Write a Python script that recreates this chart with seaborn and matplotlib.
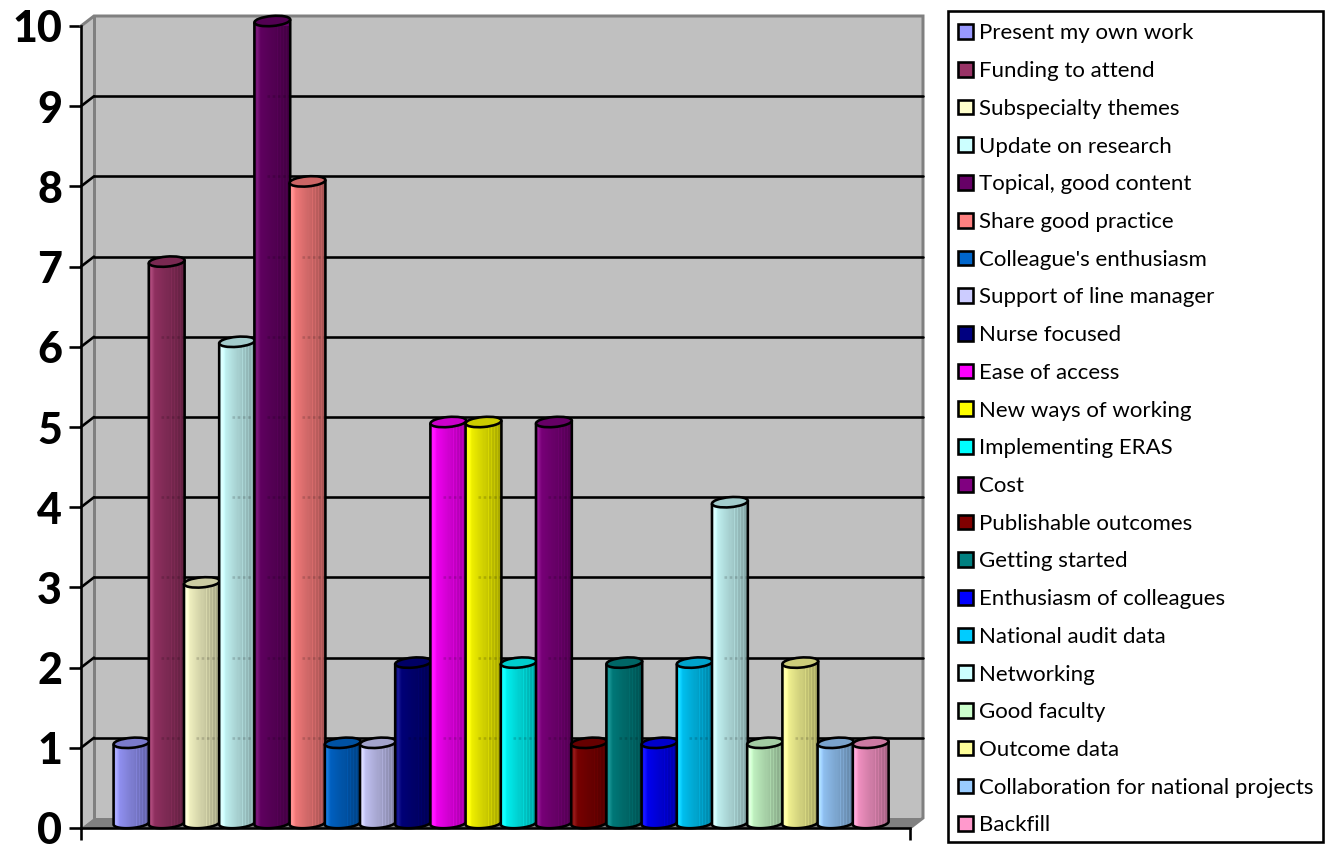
import numpy as np
import pandas as pd
import matplotlib
matplotlib.use("Agg")
import matplotlib.pyplot as plt
import seaborn as sns
from matplotlib.colors import to_rgb
from matplotlib.patches import Ellipse, Patch, PathPatch, Polygon, Rectangle
from matplotlib.path import Path
from matplotlib.transforms import Affine2D, IdentityTransform

labels = [
    "Present my own work", "Funding to attend", "Subspecialty themes",
    "Update on research", "Topical, good content", "Share good practice",
    "Colleague's enthusiasm", "Support of line manager", "Nurse focused",
    "Ease of access", "New ways of working", "Implementing ERAS", "Cost",
    "Publishable outcomes", "Getting started", "Enthusiasm of colleagues",
    "National audit data", "Networking", "Good faculty", "Outcome data",
    "Collaboration for national projects", "Backfill",
]
values = [1, 7, 3, 6, 10, 8, 1, 1, 2, 5, 5, 2, 5, 1, 2, 1, 2, 4, 1, 2, 1, 1]
colors = [
    "#9999FF", "#993366", "#FFFFCC", "#CCFFFF", "#660066", "#FF8080",
    "#0066CC", "#CCCCFF", "#000080", "#FF00FF", "#FFFF00", "#00FFFF",
    "#800080", "#800000", "#008080", "#0000FF", "#00CCFF", "#CCFFFF",
    "#CCFFCC", "#FFFF99", "#99CCFF", "#FF99CC",
]
y_ticks = list(range(11))

W, H = 1332, 844
PX = 0.72  # one pixel in points at 100 dpi
LINE = 2.6 * PX
DEPTH_X, DEPTH_Y = 13, 10  # oblique offset of the back wall
BAR_LIFT = 5               # cylinders stand halfway into the floor
ELL_H = 10                 # minor axis of the cylinder caps
TILT = 5                   # cap rotation in degrees
FIRST_BAR, BAR_PITCH = 131.5, 35.2

sns.set_theme(style="white")
plt.rcParams["font.family"] = ["Lato", "DejaVu Sans"]

fig = plt.figure(figsize=(W / 100, H / 100), dpi=100, facecolor="white")
ax = fig.add_axes([81 / W, (H - 828) / H, (910 - 81) / W, (828 - 26) / H])
ax.patch.set_visible(False)

df = pd.DataFrame({"label": labels, "value": values})
sns.barplot(data=df, x="label", y="value", hue="label", palette=colors,
            hue_order=labels, order=labels, width=1.05, dodge=False,
            saturation=1, legend=False, ax=ax)

xmin, xmax = (81 - FIRST_BAR) / BAR_PITCH, (910 - FIRST_BAR) / BAR_PITCH
ax.set_xlim(xmin, xmax)
ax.set_ylim(0, 10)
ax.autoscale(False)

back = ax.transData + Affine2D().translate(DEPTH_X, DEPTH_Y)
lift = ax.transData + Affine2D().translate(0, BAR_LIFT)
screen = IdentityTransform()

# Walls and floor of the 3D box
ax.add_patch(Rectangle((xmin, 0), xmax - xmin, 10, transform=back, fc="#C0C0C0",
                       ec="none", zorder=0.5, clip_on=False))
corner = ax.transData.transform
p00, p01 = corner((xmin, 0)), corner((xmin, 10))
p10, p11 = corner((xmax, 0)), corner((xmax, 10))
shift = np.array([DEPTH_X, DEPTH_Y])
ax.add_patch(Polygon([p00, p00 + shift, p01 + shift, p01], closed=True,
                     transform=screen, fc="#C0C0C0", ec="none",
                     zorder=0.5, clip_on=False))
ax.add_patch(Polygon([p00, p00 + shift, p10 + shift, p10], closed=True,
                     transform=screen, fc="#808080", ec="none",
                     zorder=0.6, clip_on=False))
ax.plot(*np.array([p00 + shift, p01 + shift]).T, color="#808080", lw=3 * PX,
        transform=screen, zorder=0.9, clip_on=False)
ax.plot(*np.array([p01, p01 + shift, p11 + shift, p10 + shift, p10]).T,
        color="#808080", lw=3 * PX, transform=screen, zorder=0.9,
        clip_on=False, solid_joinstyle="miter")

# Gridlines run along the back wall and step down the side wall
for tick in y_ticks[1:-1]:
    ax.plot([xmin, xmax], [tick, tick], transform=back, color="black",
            lw=LINE, zorder=1, clip_on=False)
    start = corner((xmin, tick))
    ax.plot([start[0], start[0] + DEPTH_X], [start[1], start[1] + DEPTH_Y],
            transform=screen, color="black", lw=LINE, zorder=1, clip_on=False)


def shade_strip(color, n=36):
    """One row of cylinder shading, light on the left, ribbed on the right."""
    rgb = np.array(to_rgb(color))
    t = np.linspace(0, 1, n)
    gain = 1.0 - 0.36 * t
    gain[int(n * 0.62):: 3] += 0.07
    row = rgb[None, :] * gain[:, None]
    glow = np.clip(0.10 - np.abs(t - 0.08), 0, None)
    return np.clip(row + glow[:, None], 0, 1)[None, :, :]


bars = [c[0] for c in ax.containers]
th = np.radians(TILT)
for i, (bar, color) in enumerate(zip(bars, colors)):
    z = 3 + i * 0.1
    x0, w, h = bar.get_x(), bar.get_width(), bar.get_height()
    bar.set_transform(lift)
    bar.set_linewidth(0)
    bar.set_zorder(z)
    bar.set_clip_on(False)

    (X0, Ybase), (X1, Ytop) = lift.transform([(x0, 0), (x0 + w, h)])
    cx, a, b = (X0 + X1) / 2, (X1 - X0) / 2 - 0.5, ELL_H / 2

    # Outline: both sides plus the lower half of the base ellipse
    ts = np.linspace(np.pi, 2 * np.pi, 40)
    low_x = cx + a * np.cos(ts) * np.cos(th) - b * np.sin(ts) * np.sin(th)
    low_y = Ybase + a * np.cos(ts) * np.sin(th) + b * np.sin(ts) * np.cos(th)
    top_r = (cx + a * np.cos(th), Ytop + a * np.sin(th))
    top_l = (cx - a * np.cos(th), Ytop - a * np.sin(th))
    pts = [top_l] + list(zip(low_x, low_y)) + [top_r]
    closed = Path(pts + [top_l], closed=True)

    img = ax.imshow(shade_strip(color), extent=(x0, x0 + w, -0.2, h + 0.2),
                    transform=lift, aspect="auto", interpolation="nearest",
                    zorder=z + 0.01)
    img.set_clip_path(closed, screen)

    # Faint traces of the gridlines showing through the cylinder
    for tick in y_ticks[1:-1]:
        if tick < h:
            trace, = ax.plot([x0, x0 + w], [tick, tick], transform=back, color="black",
                             lw=LINE, alpha=0.16, ls=(0, (1, 1)), zorder=z + 0.015)
            trace.set_clip_path(closed, screen)

    ax.add_patch(PathPatch(Path(pts), fc="none", ec="black", lw=LINE, zorder=z + 0.02,
                           transform=screen, clip_on=False))
    cap = np.array(to_rgb(color)) * 0.8
    ax.add_patch(Ellipse((cx, Ytop), 2 * a, ELL_H, angle=TILT, fc=cap, ec="black",
                         lw=LINE, zorder=z + 0.03, transform=screen, clip_on=False))

ax.set_xlim(xmin, xmax)
ax.set_ylim(0, 10)

# Front axes
for side in ("top", "right"):
    ax.spines[side].set_visible(False)
for side in ("left", "bottom"):
    ax.spines[side].set_color("black")
    ax.spines[side].set_linewidth(LINE)
    ax.spines[side].set_visible(True)
    ax.spines[side].set_zorder(50)
ax.set_xticks([xmin, xmax])
ax.set_xticklabels(["", ""])
ax.set_yticks(y_ticks)
ax.set_yticklabels([str(t) for t in y_ticks])
ax.set_xlabel("")
ax.set_ylabel("")
ax.tick_params(axis="both", length=12 * PX, width=LINE, color="black", left=True,
               bottom=True, direction="out")
ax.tick_params(axis="y", pad=5, labelsize=31)
for lab in ax.get_yticklabels():
    lab.set_fontweight("black")
    lab.set_color("black")

# Legend box is a fixed rectangle; the entries sit inside it without their own frame
fig.add_artist(Rectangle((948, H - 842), 1323 - 948, 842 - 11, transform=screen,
                         fc="white", ec="black", lw=LINE))
handles = [Patch(facecolor=c, edgecolor="black", linewidth=LINE) for c in colors]
leg = fig.legend(handles, labels, loc="upper left",
                 bbox_to_anchor=(948 / W, 1 - 13 / H), bbox_transform=fig.transFigure,
                 fontsize=16, frameon=False, borderaxespad=0,
                 borderpad=0.47, handlelength=0.64, handleheight=0.64,
                 handletextpad=0.29, labelspacing=0.797)
for text in leg.get_texts():
    text.set_color("black")

fig.savefig("out.png", dpi=100, facecolor="white")
